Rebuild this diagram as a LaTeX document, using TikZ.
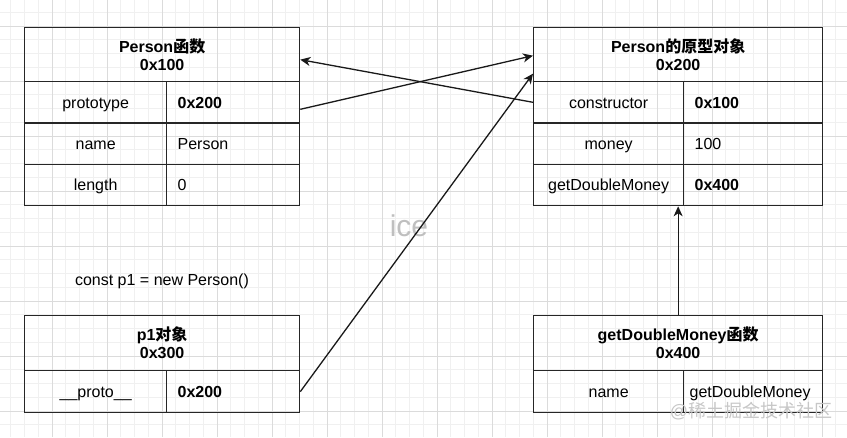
\documentclass[tikz,border=0pt]{standalone}
\usepackage{fontspec}
\setmainfont{Liberation Sans}
\newfontfamily\cjk{Noto Sans CJK SC}
\usetikzlibrary{arrows.meta}
\newcommand{\zh}[1]{{\cjk #1}}
\tikzset{
  minorgrid/.style={draw=black!6, line width=0.6pt},
  majorgrid/.style={draw=black!14, line width=0.7pt},
  cell/.style={draw=black!85, line width=1.3pt, anchor=north west, inner sep=0pt, text height=13pt, text depth=1.5pt, font=\fontsize{16}{18}\selectfont},
  head/.style={draw=black!85, line width=1.3pt, anchor=north west, inner sep=0pt, align=center, font=\fontsize{16}{18}\selectfont\bfseries},
  valcell/.style={cell, align=left, inner xsep=11pt},
  link/.style={draw=black!90, line width=1.3pt, -{Stealth[length=10pt,width=9pt,inset=3pt]}},
  plain/.style={font=\fontsize{16}{18}\selectfont},
}
\begin{document}
\begin{tikzpicture}[x=1pt,y=-1pt]
\useasboundingbox (0,0) rectangle (847,437);
\fill[white] (0,0) rectangle (847,437);
% grid
\begin{scope}
\clip (0,0) rectangle (847,437);
\foreach \i in {0,...,62} \draw[minorgrid] ({-3+13.75*\i},0) -- ({-3+13.75*\i},437);
\foreach \j in {0,...,32} \draw[minorgrid] (0,{-1.5+13.75*\j}) -- (847,{-1.5+13.75*\j});
\foreach \i in {0,...,16} \draw[majorgrid] ({-3+55*\i},0) -- ({-3+55*\i},437);
\foreach \j in {0,...,8} \draw[majorgrid] (0,{-29+55*\j}) -- (847,{-29+55*\j});
\end{scope}
% watermark
\node[text=black!25, font=\fontsize{30}{32}\selectfont] (wm) at (409,226) {ice};
% Box 1: Person函数
\node[head, minimum width=275pt, minimum height=54pt] (h1) at (24,27) {Person\zh{函数}\\0x100};
\node[cell, minimum width=142pt, minimum height=41.33pt] (k11) at (24,81) {prototype};
\node[valcell, text width=111pt, minimum height=41.33pt] (v11) at (166,81) {\bfseries 0x200};
\node[cell, minimum width=142pt, minimum height=41.33pt] (k12) at (24,122.33) {name};
\node[valcell, text width=111pt, minimum height=41.33pt] (v12) at (166,122.33) {Person};
\node[cell, minimum width=142pt, minimum height=41.33pt] (k13) at (24,163.67) {length};
\node[valcell, text width=111pt, minimum height=41.33pt] (v13) at (166,163.67) {0};
% Box 2: Person的原型对象
\node[head, minimum width=289pt, minimum height=54pt] (h2) at (533,27) {Person\zh{的原型对象}\\0x200};
\node[cell, minimum width=150pt, minimum height=41.33pt] (k21) at (533,81) {constructor};
\node[valcell, text width=117pt, minimum height=41.33pt] (v21) at (683,81) {\bfseries 0x100};
\node[cell, minimum width=150pt, minimum height=41.33pt] (k22) at (533,122.33) {money};
\node[valcell, text width=117pt, minimum height=41.33pt] (v22) at (683,122.33) {100};
\node[cell, minimum width=150pt, minimum height=41.33pt] (k23) at (533,163.67) {getDoubleMoney};
\node[valcell, text width=117pt, minimum height=41.33pt] (v23) at (683,163.67) {\bfseries 0x400};
% Box 3: p1对象
\node[plain] (code) at (162,281) {const p1 = new Person()};
\node[head, minimum width=275pt, minimum height=55pt] (h3) at (24,315) {p1\zh{对象}\\0x300};
\node[cell, minimum width=142pt, minimum height=42pt] (k31) at (24,370) {\_\_proto\_\_};
\node[valcell, text width=111pt, minimum height=42pt] (v31) at (166,370) {\bfseries 0x200};
% Box 4: getDoubleMoney函数
\node[head, minimum width=289pt, minimum height=55pt] (h4) at (533,315) {getDoubleMoney\zh{函数}\\0x400};
\node[cell, minimum width=150pt, minimum height=42pt] (k41) at (533,370) {name};
\node[valcell, inner xsep=6pt, text width=127pt, minimum height=42pt] (v41) at (683,370) {getDoubleMoney};
% connectors
\draw[link] (k21.west) -- ([yshift=-5pt]h1.east);
\draw[link] ([yshift=-7pt]v11.east) -- ([yshift=-1pt]h2.west);
\draw[link] (v31.east) -- ([yshift=-19pt]h2.west);
\draw[link] (h4.north) -- (h4.north |- k23.south);
% bottom watermark
\node[text=black!22, font=\fontsize{18}{20}\selectfont, anchor=center] (wm2) at (751,411) {@\zh{稀土掘金技术社区}};
\end{tikzpicture}
\end{document}
